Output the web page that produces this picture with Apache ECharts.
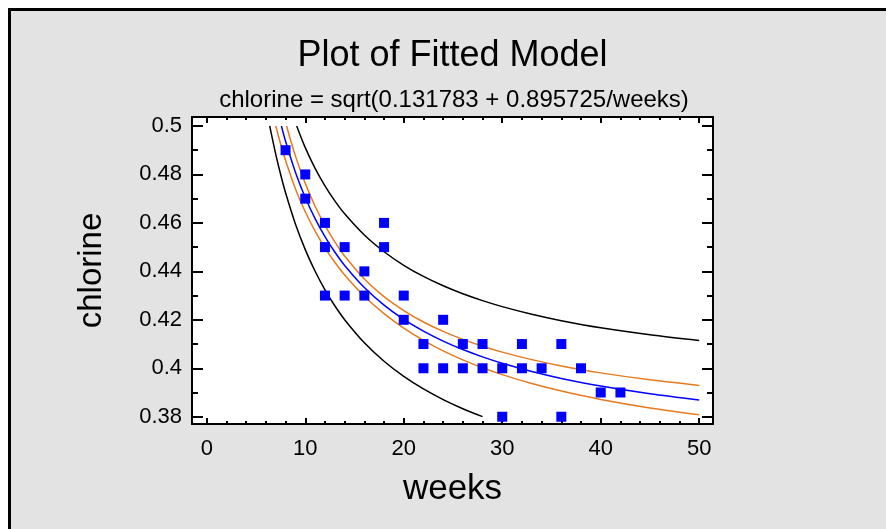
<!DOCTYPE html>
<html>
<head>
<meta charset="utf-8">
<script src="https://cdn.jsdelivr.net/npm/echarts@6/dist/echarts.min.js"></script>
<style>
html,body{margin:0;padding:0;background:#fff;}
#chart{width:886px;height:529px;}
</style>
</head>
<body>
<div id="chart"></div>
<script>
// ---- data ----
var weeks = [8,10,10,12,12,12,14,14,16,16,18,18,20,20,22,22,24,24,26,26,28,28,30,30,32,32,34,36,36,38,40,42];
var chlorine = [0.49,0.48,0.47,0.46,0.45,0.43,0.45,0.43,0.44,0.43,0.46,0.45,0.43,0.42,0.41,0.40,0.42,0.40,0.41,0.40,0.41,0.40,0.40,0.38,0.41,0.40,0.40,0.41,0.38,0.40,0.39,0.39];

var fitX = [7.58,8,9,10,11,12,13,14,16,18,20,22,24,26,28,30,33,36,40,45,50];
var fitY = [0.5,0.49371,0.48094,0.47049,0.46175,0.45434,0.44798,0.44245,0.43332,0.42608,0.42020,0.41533,0.41122,0.40772,0.40469,0.40205,0.39866,0.39581,0.39265,0.38947,0.38691];

var uclX = [8.1,9,10,11,12,13,14,16,18,20,22,24,26,28,30,33,36,40,45,50];
var uclY = [0.5,0.48766,0.47631,0.46688,0.45893,0.45215,0.44633,0.43688,0.42959,0.42381,0.41911,0.41522,0.41193,0.40911,0.40667,0.40356,0.40096,0.39810,0.39523,0.39292];

var lclX = [7.01,7.5,8,9,10,11,12,13,14,16,18,20,22,24,26,28,30,33,36,40,45,50];
var lclY = [0.5,0.49255,0.48574,0.47413,0.46458,0.45657,0.44971,0.44377,0.43854,0.42973,0.42255,0.41656,0.41151,0.40719,0.40346,0.40022,0.39737,0.39369,0.39059,0.38713,0.38363,0.38080];

var uplX = [9.13,10,11,12,13,14,16,18,20,22,24,26,28,30,33,36,40,45,50];
var uplY = [0.5,0.49106,0.48249,0.47527,0.46910,0.46376,0.45499,0.44809,0.44251,0.43790,0.43404,0.43075,0.42792,0.42545,0.42229,0.41965,0.41672,0.41379,0.41142];

var lplX = [6.39,7,7.5,8,9,10,11,12,13,14,16,18,20,22,24,26,28];
var lplY = [0.5,0.48835,0.47995,0.47245,0.45959,0.44897,0.44003,0.43240,0.42581,0.42006,0.41051,0.40288,0.39664,0.39146,0.38707,0.38331,0.38004];

var xMajor = [0,10,20,30,40,50];
var xMinor = [2,4,6,8,12,14,16,18,22,24,26,28,32,34,36,38,42,44,46,48];
var yMajor = [0.38,0.40,0.42,0.44,0.46,0.48,0.50];
var yMinor = [0.39,0.41,0.43,0.45,0.47,0.49];

var titleText = 'Plot of Fitted Model';
var subtitleText = 'chlorine = sqrt(0.131783 + 0.895725/weeks)';
var xName = 'weeks';
var yName = 'chlorine';

// ---- chart ----
function zip(a, b) { return a.map(function (v, i) { return [v, b[i]]; }); }

var FONT = '"Liberation Sans", Arial, sans-serif';
var XMIN = -1.5, XMAX = 51.4, YMIN = 0.377, YMAX = 0.5037;

function xAx(pos, ticks, len, showLine, labels) {
  return {
    type: 'value', position: pos, min: XMIN, max: XMAX, gridIndex: 0,
    axisLine: { show: showLine, onZero: false, lineStyle: { color: '#000', width: 2 } },
    axisTick: { show: true, inside: true, length: len, customValues: ticks, lineStyle: { color: '#000', width: 2 } },
    axisLabel: labels ? { show: true, customValues: ticks, color: '#000', fontSize: 22, fontFamily: FONT, margin: 14 } : { show: false },
    splitLine: { show: false }
  };
}
function yAx(pos, ticks, len, showLine, labels) {
  return {
    type: 'value', position: pos, min: YMIN, max: YMAX, gridIndex: 0,
    axisLine: { show: showLine, onZero: false, lineStyle: { color: '#000', width: 2 } },
    axisTick: { show: true, inside: true, length: len, customValues: ticks, lineStyle: { color: '#000', width: 2 } },
    axisLabel: labels ? { show: true, customValues: ticks, color: '#000', fontSize: 22, fontFamily: FONT, margin: 10 } : { show: false },
    splitLine: { show: false }
  };
}

var xa0 = xAx('bottom', xMajor, 6, true, true);
xa0.name = xName; xa0.nameLocation = 'middle'; xa0.nameGap = 48;
xa0.nameTextStyle = { fontSize: 35, color: '#000', fontFamily: FONT };
var ya0 = yAx('left', yMajor, 11, true, true);
ya0.name = yName; ya0.nameLocation = 'middle'; ya0.nameGap = 84; ya0.nameRotate = 90;
ya0.nameTextStyle = { fontSize: 33, color: '#000', fontFamily: FONT };

function lineSeries(xs, ys, color) {
  return {
    type: 'line', xAxisIndex: 0, yAxisIndex: 0, data: zip(xs, ys),
    showSymbol: false, symbol: 'none', smooth: 0.3,
    lineStyle: { color: color, width: 1.5 }, z: 2, silent: true
  };
}

var chart = echarts.init(document.getElementById('chart'), null, { renderer: 'canvas' });
chart.setOption({
  animation: false,
  backgroundColor: '#ffffff',
  graphic: [
    { type: 'rect', z: -100, shape: { x: 9.5, y: 9.5, width: 1000, height: 1000 },
      style: { fill: '#e3e3e3', stroke: '#000', lineWidth: 3 } },
    { type: 'text', z: 10, x: 452.5, y: 56,
      style: { text: titleText, font: '36px ' + FONT, fill: '#000', align: 'center', verticalAlign: 'middle' } },
    { type: 'text', z: 10, x: 454, y: 100.3,
      style: { text: subtitleText, font: '24px ' + FONT, fill: '#000', align: 'center', verticalAlign: 'middle' } }
  ],
  grid: { left: 192, top: 117, width: 521, height: 307, show: true, backgroundColor: '#ffffff', borderWidth: 0, containLabel: false },
  xAxis: [xa0, xAx('bottom', xMinor, 3, false, false), xAx('top', xMajor, 6, true, false), xAx('top', xMinor, 3, false, false)],
  yAxis: [ya0, yAx('left', yMinor, 6, false, false), yAx('right', yMajor, 11, true, false), yAx('right', yMinor, 6, false, false)],
  series: [
    lineSeries(lplX, lplY, '#000000'),
    lineSeries(uplX, uplY, '#000000'),
    lineSeries(lclX, lclY, '#e57a1f'),
    lineSeries(uclX, uclY, '#e57a1f'),
    lineSeries(fitX, fitY, '#0000ff'),
    { type: 'scatter', xAxisIndex: 0, yAxisIndex: 0, data: zip(weeks, chlorine),
      symbol: 'rect', symbolSize: 10, itemStyle: { color: '#0000ff', opacity: 1 }, z: 5 }
  ]
});
</script>
</body>
</html>
